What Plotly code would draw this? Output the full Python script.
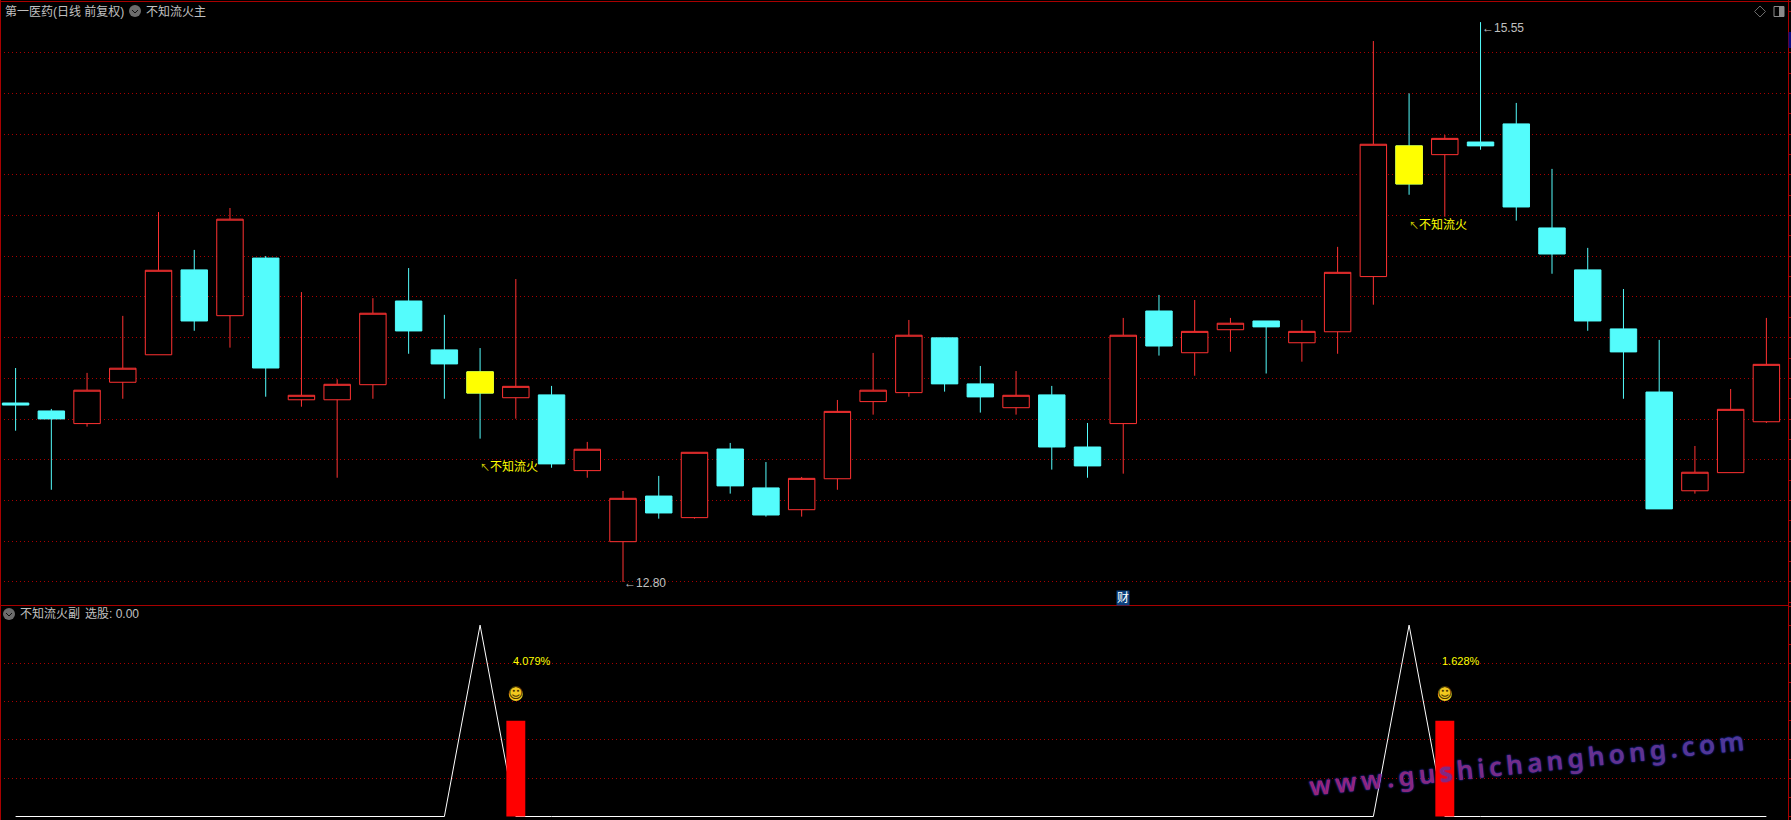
import plotly.graph_objects as go
import plotly.subplots as sp

WIDTH = 1791
HEIGHT = 820

BORDER = "#a80000"
GRID = "#a80000"
UP = "#ff3232"
DOWN = "#54fcfc"
SIGNAL = "#ffff00"
TEXT = "#c0c0c0"
CN_FONT = "Liberation Sans, Noto Sans CJK SC"

days = list(range(50))
opens = [13.679, 13.640, 13.578, 13.781, 13.916, 14.333, 14.108, 14.391, 13.695, 13.695,
         13.769, 14.180, 13.940, 13.832, 13.705, 13.719, 13.347, 12.998, 13.222, 13.116,
         13.453, 13.262, 13.155, 13.307, 13.686, 13.730, 13.999, 13.773, 13.656, 13.719,
         13.463, 13.578, 14.131, 13.926, 14.039, 14.082, 13.975, 14.029, 14.300, 14.942,
         14.899, 14.961, 15.050, 14.539, 14.333, 14.043, 13.733, 13.248, 13.337, 13.587]
highs = [13.851, 13.650, 13.827, 14.107, 14.617, 14.431, 14.637, 14.401, 14.224, 13.796,
         14.194, 14.342, 14.112, 13.949, 14.288, 13.763, 13.488, 13.247, 13.321, 13.437,
         13.483, 13.389, 13.316, 13.694, 13.925, 14.087, 13.999, 13.861, 13.836, 13.763,
         13.581, 14.097, 14.210, 14.185, 14.097, 14.082, 14.087, 14.446, 15.457, 15.200,
         14.996, 15.550, 15.153, 14.829, 14.441, 14.239, 13.989, 13.468, 13.748, 14.097]
lows = [13.543, 13.253, 13.563, 13.700, 13.916, 14.034, 13.951, 13.710, 13.661, 13.312,
        13.700, 13.921, 13.700, 13.504, 13.602, 13.361, 13.312, 12.800, 13.111, 13.111,
        13.234, 13.121, 13.121, 13.253, 13.622, 13.710, 13.735, 13.632, 13.622, 13.352,
        13.312, 13.332, 13.912, 13.813, 13.931, 13.824, 13.882, 13.921, 14.162, 14.702,
        14.594, 14.923, 14.575, 14.314, 14.034, 13.700, 13.159, 13.234, 13.337, 13.581]
closes = [13.669, 13.601, 13.742, 13.850, 14.331, 14.082, 14.582, 13.851, 13.717, 13.771,
          14.120, 14.033, 13.871, 13.728, 13.761, 13.380, 13.452, 13.211, 13.139, 13.437,
          13.272, 13.129, 13.309, 13.638, 13.742, 14.012, 13.773, 13.709, 13.717, 13.463,
          13.370, 14.012, 13.959, 14.031, 14.071, 14.053, 14.031, 14.321, 14.950, 14.755,
          14.979, 14.942, 14.642, 14.411, 14.082, 13.930, 13.159, 13.339, 13.648, 13.869]

price_grid = [12.8, 13.0, 13.2, 13.4, 13.6, 13.8, 14.0, 14.2, 14.4, 14.6, 14.8, 15.0, 15.2, 15.4]
sub_grid = [20, 40, 60, 80]

# days the formula flags, painted yellow on the main pane
signal_days = [13, 39]
signal_label = '<span style="font-size:10px;color:#d0d000">↖</span>不知流火'
signal_label_prices = [13.365, 14.554]

# lower pane
sub_values = [0] * 13 + [100, 0] + [0] * 24 + [100, 0] + [0] * 9
gain_days = [14, 40]
gain_bars = [50, 50]
gain_labels = ["4.079%", "1.628%"]
gain_label_level = 81
smile_level = 64

low_day, low_price = 17, 12.80
high_day, high_price = 41, 15.55

watermark = "www.gushichanghong.com"


def px_x(x):
    return x / WIDTH


def px_y(y):
    return 1 - y / HEIGHT


def line_shape(x0, y0, x1, y1, color=BORDER, width=1):
    return dict(type="line", xref="paper", yref="paper", x0=px_x(x0), y0=px_y(y0),
                x1=px_x(x1), y1=px_y(y1), line=dict(color=color, width=width))


def chevron_icon(cx, cy):
    # round grey menu button next to the pane titles
    return [
        dict(type="circle", xref="paper", yref="paper", x0=px_x(cx - 6), x1=px_x(cx + 6),
             y0=px_y(cy + 6), y1=px_y(cy - 6), fillcolor="#6c6c6c", line=dict(width=0)),
        line_shape(cx - 3, cy - 1, cx, cy + 2, "#111111", 1),
        line_shape(cx, cy + 2, cx + 3, cy - 1, "#111111", 1),
    ]


def pane_text(x, y, text, color=TEXT, size=12, family=CN_FONT):
    return dict(x=px_x(x), y=px_y(y), xref="paper", yref="paper", text=text, showarrow=False,
                xanchor="left", yanchor="middle", font=dict(color=color, size=size, family=family))


def tinted_watermark(text):
    # letters drift from magenta to blue-violet, spaced out with thin spaces
    spans = []
    for i, ch in enumerate(text):
        t = i / (len(text) - 1)
        r, g, b = int(150 - 70 * t), int(36 + 20 * t), int(120 + 30 * t)
        spans.append(f'<span style="color:rgb({r},{g},{b})">{ch}</span>')
    return "\u2009".join(spans)


fig = sp.make_subplots(rows=2, cols=1, shared_xaxes=True, vertical_spacing=0)

fig.add_trace(
    go.Candlestick(
        x=days, open=opens, high=highs, low=lows, close=closes,
        increasing=dict(line=dict(color=UP, width=1), fillcolor="#000000"),
        decreasing=dict(line=dict(color=DOWN, width=1), fillcolor=DOWN),
        whiskerwidth=0, hoverinfo="skip",
    ),
    row=1, col=1,
)
# yellow bodies go on top of the cyan ones, the cyan wick stays visible
fig.add_trace(
    go.Candlestick(
        x=signal_days,
        open=[opens[d] for d in signal_days],
        high=[opens[d] for d in signal_days],
        low=[closes[d] for d in signal_days],
        close=[closes[d] for d in signal_days],
        decreasing=dict(line=dict(color=SIGNAL, width=1), fillcolor=SIGNAL),
        increasing=dict(line=dict(color=SIGNAL, width=1), fillcolor=SIGNAL),
        whiskerwidth=0, hoverinfo="skip",
    ),
    row=1, col=1,
)

fig.add_trace(
    go.Scatter(x=days, y=sub_values, mode="lines", line=dict(color="#ffffff", width=1),
               hoverinfo="skip"),
    row=2, col=1,
)
fig.add_trace(
    go.Scatter(x=gain_days, y=[smile_level] * 2, mode="markers+text", text=["☺", "☺"],
               textposition="middle center",
               textfont=dict(color="#4a3500", size=15, family="DejaVu Sans"),
               marker=dict(color="#f2c81e", size=14), hoverinfo="skip"),
    row=2, col=1,
)
# bars sit on an overlaying axis so they cover the white line
fig.add_trace(
    go.Bar(x=gain_days, y=gain_bars, width=0.53, marker=dict(color="#ff0000", line=dict(width=0)),
           xaxis="x2", yaxis="y3", hoverinfo="skip")
)

split = 1 - 606 / HEIGHT
plot_right = 1788 / WIDTH

fig.update_xaxes(range=[-0.4366, 49.605], domain=[0, plot_right], showgrid=False, showline=False,
                 zeroline=False, showticklabels=False, ticks="", rangeslider=dict(visible=False))
tick_style = dict(ticks="outside", ticklen=3, tickwidth=1, tickcolor=BORDER)
fig.update_yaxes(
    row=1, col=1, domain=[split, 1], range=[12.682, 15.6586], side="right",
    tickmode="array", tickvals=price_grid, showticklabels=False, zeroline=False,
    showgrid=True, gridcolor=GRID, griddash="1px,3px", gridwidth=1,
    showline=True, linecolor=BORDER, linewidth=1,
    minor=dict(tickmode="linear", tick0=12.8, dtick=0.1, showgrid=False, **tick_style), **tick_style,
)
fig.update_yaxes(
    row=2, col=1, domain=[0, split], range=[-1.83, 110], side="right",
    tickmode="array", tickvals=sub_grid, showticklabels=False, zeroline=False,
    showgrid=True, gridcolor=GRID, griddash="1px,3px", gridwidth=1,
    showline=True, linecolor=BORDER, linewidth=1,
    minor=dict(tickmode="linear", tick0=0, dtick=10, showgrid=False, **tick_style), **tick_style,
)

annotations = [
    pane_text(3, 11.5, "第一医药(日线 前复权)"),
    pane_text(144, 11.5, "不知流火主"),
    pane_text(18, 614, "不知流火副"),
    pane_text(83, 614, "选股: 0.00"),
    dict(x=px_x(1122.5), y=px_y(597.5), xref="paper", yref="paper", text="财", showarrow=False,
         xanchor="center", yanchor="middle", bgcolor="#0b3f7c", borderpad=0,
         font=dict(color="#ffffff", size=12, family=CN_FONT)),
    dict(x=px_x(1526), y=px_y(763), xref="paper", yref="paper", text=tinted_watermark(watermark),
         showarrow=False, textangle=-6, xanchor="center", yanchor="middle",
         font=dict(size=26, family="Noto Sans", weight=600, shadow="0 0 2px #2a3cff")),
    dict(x=low_day, y=low_price, xref="x", yref="y", text=f"←{low_price:.2f}", showarrow=False,
         xanchor="left", xshift=-1, yshift=-1, font=dict(color=TEXT, size=12, family=CN_FONT)),
    dict(x=high_day, y=high_price, xref="x", yref="y", text=f"←{high_price:.2f}", showarrow=False,
         xanchor="left", xshift=-1, yshift=-6, font=dict(color=TEXT, size=12, family=CN_FONT)),
]
for day, price in zip(signal_days, signal_label_prices):
    annotations.append(
        dict(x=day, y=price, xref="x", yref="y", text=signal_label, showarrow=False,
             xanchor="left", xshift=-2, font=dict(color=SIGNAL, size=12, family=CN_FONT))
    )
for day, label in zip(gain_days, gain_labels):
    annotations.append(
        dict(x=day, y=gain_label_level, xref="x2", yref="y2", text=label, showarrow=False,
             xanchor="left", xshift=-5, font=dict(color=SIGNAL, size=11, family=CN_FONT))
    )

shapes = [
    line_shape(0.5, 0, 0.5, HEIGHT),
    line_shape(0, 1.5, WIDTH, 1.5),
    line_shape(0, 605.5, 1788, 605.5),
    dict(type="rect", xref="paper", yref="paper", x0=px_x(1788.5), x1=1, y0=px_y(48), y1=px_y(32),
         fillcolor="#0a0a80", line=dict(width=0)),
    # view controls, top right
    dict(type="path", xref="paper", yref="paper", line=dict(color="#6a6a6a", width=1),
         path=f"M {px_x(1760)} {px_y(6)} L {px_x(1765.5)} {px_y(11.5)} "
              f"L {px_x(1760)} {px_y(17)} L {px_x(1754.5)} {px_y(11.5)} Z"),
    dict(type="rect", xref="paper", yref="paper", x0=px_x(1774), x1=px_x(1784), y0=px_y(16.5),
         y1=px_y(6.5), line=dict(color="#8a8a8a", width=1), fillcolor="#000000"),
    dict(type="rect", xref="paper", yref="paper", x0=px_x(1779), x1=px_x(1784), y0=px_y(16.5),
         y1=px_y(6.5), line=dict(width=0), fillcolor="#8a8a8a"),
] + chevron_icon(135, 11) + chevron_icon(9, 614)

fig.update_layout(
    width=WIDTH,
    height=HEIGHT,
    margin=dict(l=0, r=0, t=0, b=0),
    paper_bgcolor="#000000",
    plot_bgcolor="#000000",
    showlegend=False,
    boxgap=0.26,
    boxgroupgap=0,
    barmode="overlay",
    yaxis3=dict(overlaying="y2", range=[-1.83, 110], visible=False, anchor="x2"),
    annotations=annotations,
    shapes=shapes,
)

fig.write_html("out.html", config=dict(displayModeBar=False),
               post_script="document.body.style.margin='0';")
